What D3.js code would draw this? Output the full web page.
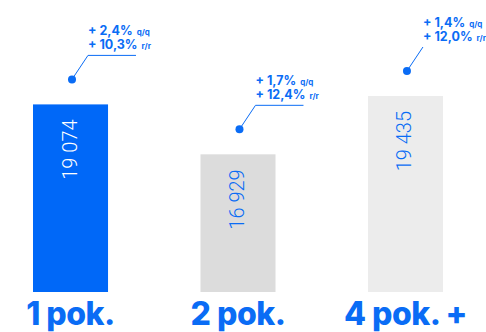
<!DOCTYPE html>
<html>
<head>
<meta charset="utf-8">
<script src="https://cdn.jsdelivr.net/npm/d3@7/dist/d3.min.js"></script>
<style>
  html, body { margin: 0; padding: 0; background: #fff; }
  svg { display: block; }
</style>
</head>
<body>
<svg id="chart" width="486" height="332"></svg>
<script>
// Household categories and average values
const categories = ["1 pok.", "2 pok.", "4 pok. +"];
const values = [19074, 16929, 19435];
const qqChange = ["+ 2,4%", "+ 1,7%", "+ 1,4%"];
const rrChange = ["+ 10,3%", "+ 12,4%", "+ 12,0%"];
const barColors = ["#0068f8", "#dcdcdc", "#ececec"];
const labelColors = ["#ffffff", "#0a6cf5", "#0a6cf5"];
const underline = [true, true, false];

const BLUE = "#0a6cf5";
const svg = d3.select("#chart");

const x = d3.scaleBand()
  .domain(categories)
  .range([16.25, 459.75])
  .paddingInner(0.552)
  .paddingOuter(0.1);

const baseY = 292;
const y = d3.scaleLinear()
  .domain([11014, 19435])
  .range([baseY, baseY - 196]);

// Bars
svg.selectAll("rect.bar")
  .data(values)
  .join("rect")
  .attr("class", "bar")
  .attr("x", (d, i) => x(categories[i]))
  .attr("y", d => y(d))
  .attr("width", x.bandwidth())
  .attr("height", d => baseY - y(d))
  .attr("fill", (d, i) => barColors[i]);

// Value labels, rotated inside bars
const fmt = v => d3.format(",")(v).replace(",", " ");
svg.selectAll("text.val")
  .data(values)
  .join("text")
  .attr("class", "val")
  .attr("transform", (d, i) => `translate(${x(categories[i]) + x.bandwidth() / 2 - 1},${y(d) + 15}) rotate(-90)`)
  .attr("text-anchor", "end")
  .attr("dominant-baseline", "central")
  .attr("font-family", "Roboto, sans-serif")
  .attr("font-weight", 300)
  .attr("font-size", 20)
  .attr("fill", (d, i) => labelColors[i])
  .text(d => fmt(d));

// Category labels
svg.selectAll("text.cat")
  .data(categories)
  .join("text")
  .attr("class", "cat")
  .attr("x", d => x(d) + x.bandwidth() / 2)
  .attr("y", 325)
  .attr("text-anchor", "middle")
  .attr("font-family", "Inter, sans-serif")
  .attr("font-weight", 800)
  .attr("font-size", 32)
  .attr("letter-spacing", -0.5)
  .attr("fill", BLUE)
  .text(d => d);

// Change annotations: dot, leader line, two text rows
values.forEach((v, i) => {
  const cx = x(categories[i]) + 39;
  const cy = y(v) - 25;
  const lx = cx + 16, ly = cy - 24;
  const g = svg.append("g");
  g.append("circle").attr("cx", cx).attr("cy", cy).attr("r", 4).attr("fill", BLUE);
  g.append("line")
    .attr("x1", cx).attr("y1", cy).attr("x2", lx).attr("y2", ly)
    .attr("stroke", BLUE).attr("stroke-width", 1);
  if (underline[i]) {
    g.append("line")
      .attr("x1", lx).attr("y1", ly).attr("x2", lx + 48).attr("y2", ly)
      .attr("stroke", BLUE).attr("stroke-width", 1);
  }
  const rows = [[qqChange[i], "q/q"], [rrChange[i], "r/r"]];
  rows.forEach((r, k) => {
    const t = g.append("text")
      .attr("x", lx)
      .attr("y", ly - 20 + k * 14)
      .attr("font-family", "Inter, sans-serif")
      .attr("font-weight", 700)
      .attr("font-size", 12.5)
      .attr("fill", BLUE);
    t.append("tspan").text(r[0]);
    t.append("tspan").attr("dx", 4).attr("font-size", 8).text(r[1]);
  });
});
</script>
</body>
</html>
